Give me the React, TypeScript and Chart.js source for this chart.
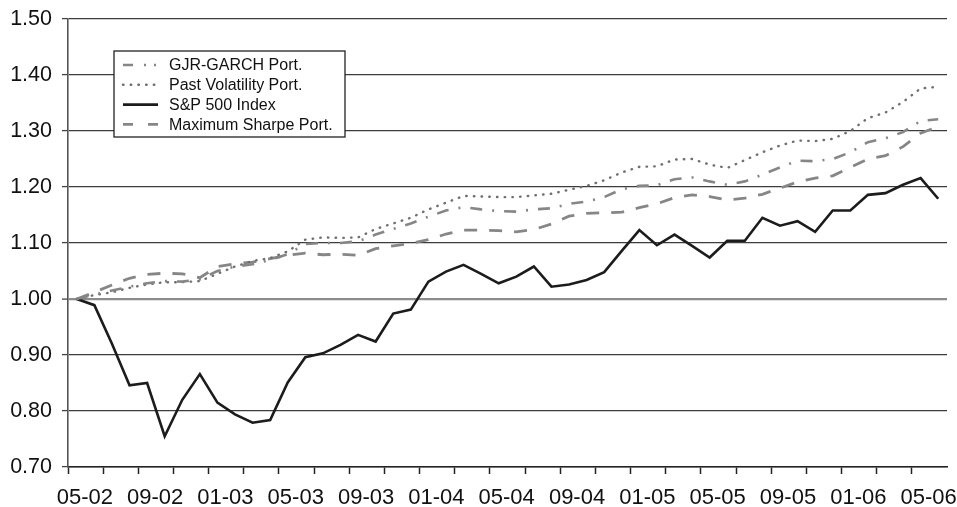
import React, { useEffect, useRef } from "react";
import { Chart, registerables } from "chart.js";

Chart.register(...registerables);

const months = [
  "05-02", "06-02", "07-02", "08-02", "09-02", "10-02", "11-02", "12-02",
  "01-03", "02-03", "03-03", "04-03", "05-03", "06-03", "07-03", "08-03", "09-03", "10-03", "11-03", "12-03",
  "01-04", "02-04", "03-04", "04-04", "05-04", "06-04", "07-04", "08-04", "09-04", "10-04", "11-04", "12-04",
  "01-05", "02-05", "03-05", "04-05", "05-05", "06-05", "07-05", "08-05", "09-05", "10-05", "11-05", "12-05",
  "01-06", "02-06", "03-06", "04-06", "05-06", "06-06",
];

const shownLabels = [
  "05-02", "09-02", "01-03", "05-03", "09-03", "01-04", "05-04",
  "09-04", "01-05", "05-05", "09-05", "01-06", "05-06",
];

const gjrGarch = [
  1.0, 1.008, 1.015, 1.022, 1.028, 1.032, 1.031, 1.035, 1.05, 1.058,
  1.062, 1.07, 1.08, 1.098, 1.1, 1.1, 1.103, 1.115, 1.125, 1.135,
  1.147, 1.158, 1.164, 1.16, 1.157, 1.156, 1.16, 1.162, 1.17, 1.174,
  1.182, 1.196, 1.202, 1.203, 1.214, 1.217, 1.21, 1.204, 1.21, 1.222,
  1.235, 1.247, 1.246, 1.25, 1.262, 1.28, 1.287, 1.298, 1.318, 1.321,
];

const pastVol = [
  1.0, 1.007, 1.012, 1.02, 1.026, 1.03, 1.03, 1.032, 1.045, 1.058,
  1.068, 1.073, 1.085, 1.106, 1.11, 1.109, 1.11, 1.125, 1.135, 1.145,
  1.16, 1.172, 1.184, 1.183, 1.182, 1.182, 1.185, 1.188, 1.195, 1.202,
  1.212, 1.226, 1.236, 1.237, 1.249, 1.25, 1.24, 1.234, 1.248, 1.262,
  1.274, 1.283, 1.282, 1.286, 1.3, 1.323, 1.333, 1.352, 1.376, 1.379,
];

const sp500 = [
  1.0, 0.989, 0.92, 0.846, 0.85, 0.755, 0.82, 0.866, 0.815, 0.794,
  0.779, 0.784, 0.851, 0.896, 0.903, 0.918, 0.936, 0.924, 0.974, 0.981,
  1.031, 1.049, 1.061, 1.045, 1.028, 1.04, 1.058, 1.022, 1.026, 1.034,
  1.048, 1.086, 1.123, 1.096, 1.115, 1.095, 1.074, 1.104, 1.104, 1.145,
  1.131, 1.139, 1.12, 1.158, 1.158, 1.186, 1.189, 1.204, 1.216, 1.179,
];

const maxSharpe = [
  1.0, 1.012, 1.025, 1.037, 1.044, 1.046, 1.045, 1.038, 1.058, 1.063,
  1.066, 1.072, 1.078, 1.082, 1.079, 1.08, 1.078, 1.09, 1.095, 1.099,
  1.106, 1.116, 1.123, 1.123, 1.122, 1.12, 1.124, 1.134, 1.148, 1.153,
  1.154, 1.155, 1.163, 1.17, 1.181, 1.186, 1.183, 1.177, 1.18, 1.187,
  1.198, 1.209, 1.216, 1.22, 1.235, 1.25, 1.256, 1.272, 1.296, 1.308,
];

const FONT = '"Liberation Sans", Arial, Helvetica, sans-serif';

const boxLegend = {
  id: "boxLegend",
  afterDatasetsDraw(chart: any, _args: any, opts: any) {
    const { ctx, chartArea } = chart;
    const x0 = chartArea.left + opts.offsetX;
    const y0 = chartArea.top + opts.offsetY;
    ctx.save();
    ctx.fillStyle = "#ffffff";
    ctx.fillRect(x0, y0, opts.width, opts.height);
    ctx.strokeStyle = "#222222";
    ctx.lineWidth = 1.3;
    ctx.strokeRect(x0, y0, opts.width, opts.height);
    chart.data.datasets.forEach((ds: any, i: number) => {
      const cy = y0 + opts.firstRow + i * opts.rowHeight;
      ctx.beginPath();
      ctx.setLineDash(ds.legendDash || ds.borderDash || []);
      ctx.lineCap = ds.borderCapStyle || "butt";
      ctx.strokeStyle = ds.borderColor;
      ctx.lineWidth = ds.borderWidth;
      ctx.moveTo(x0 + opts.sampleX, cy);
      ctx.lineTo(x0 + opts.sampleX + opts.sampleLen, cy);
      ctx.stroke();
      ctx.setLineDash([]);
      ctx.fillStyle = "#111111";
      ctx.font = `16px ${FONT}`;
      ctx.textBaseline = "middle";
      ctx.textAlign = "left";
      ctx.fillText(ds.label, x0 + opts.textX, cy + 1);
    });
    ctx.restore();
  },
};

export default function App() {
  const ref = useRef<HTMLCanvasElement | null>(null);

  useEffect(() => {
    if (!ref.current) return;
    const chart = new Chart(ref.current, {
      type: "line",
      data: {
        labels: months,
        datasets: [
          {
            label: "GJR-GARCH Port.",
            data: gjrGarch,
            borderColor: "#868686",
            borderWidth: 2.6,
            borderDash: [12, 10, 2, 10],
            legendDash: [10, 11, 2, 8, 2, 8],
            pointRadius: 0,
            tension: 0,
          } as any,
          {
            label: "Past Volatility Port.",
            data: pastVol,
            borderColor: "#6f6f6f",
            borderWidth: 2.4,
            borderDash: [0.5, 7.2],
            borderCapStyle: "round",
            pointRadius: 0,
            tension: 0,
          },
          {
            label: "S&P 500 Index",
            data: sp500,
            borderColor: "#1c1c1c",
            borderWidth: 2.6,
            pointRadius: 0,
            tension: 0,
          },
          {
            label: "Maximum Sharpe Port.",
            data: maxSharpe,
            borderColor: "#868686",
            borderWidth: 2.8,
            borderDash: [13, 12],
            legendDash: [10, 15],
            pointRadius: 0,
            tension: 0,
          } as any,
        ],
      },
      options: {
        responsive: false,
        animation: false,
        devicePixelRatio: 1,
        layout: { padding: { left: 0, right: 10, top: 0, bottom: 0 } },
        plugins: {
          legend: { display: false },
          tooltip: { enabled: false },
          boxLegend: {
            offsetX: 46,
            offsetY: 32,
            width: 231,
            height: 86,
            firstRow: 14,
            rowHeight: 19.8,
            sampleX: 9,
            sampleLen: 35,
            textX: 55,
          },
        } as any,
        scales: {
          x: {
            type: "category",
            offset: true,
            afterFit: (s: any) => {
              s.height = 40;
              s.paddingLeft = 0;
              s.paddingRight = 0;
            },
            grid: {
              offset: true,
              drawOnChartArea: false,
              drawTicks: true,
              tickLength: 7,
              tickWidth: 1.5,
              tickColor: (c: any) => (c.index % 2 === 0 ? "#222222" : "rgba(0,0,0,0)"),
            },
            border: { display: true, color: "#222222", width: 1.5 },
            ticks: {
              autoSkip: false,
              maxRotation: 0,
              minRotation: 0,
              padding: 11,
              labelOffset: 8,
              color: "#111111",
              font: { family: FONT, size: 22 },
              callback: function (this: any, _v: any, idx: number) {
                const lab = months[idx];
                return shownLabels.includes(lab) ? lab : "";
              },
            },
          },
          y: {
            min: 0.7,
            max: 1.5,
            afterFit: (s: any) => {
              s.width = 68;
              s.paddingTop = 19;
              s.paddingBottom = 0;
            },
            grid: {
              color: (c: any) =>
                c.tick && Math.abs(c.tick.value - 1) < 1e-6 ? "#8c8c8c" : "#3c3c3c",
              lineWidth: (c: any) =>
                c.tick && Math.abs(c.tick.value - 1) < 1e-6 ? 2.2 : 1.2,
              tickLength: 6,
              tickColor: "#444444",
              tickWidth: 1.3,
            },
            border: { display: true, color: "#555555", width: 1.6 },
            ticks: {
              stepSize: 0.1,
              padding: 10,
              color: "#111111",
              font: { family: FONT, size: 21.5 },
              callback: (v: any) => Number(v).toFixed(2),
            },
          },
        },
      },
      plugins: [boxLegend as any],
    });
    return () => chart.destroy();
  }, []);

  return (
    <div style={{ position: "fixed", left: 0, top: 0, width: 957, height: 507, background: "#ffffff" }}>
      <canvas ref={ref} width={957} height={507} style={{ display: "block" }} />
    </div>
  );
}
